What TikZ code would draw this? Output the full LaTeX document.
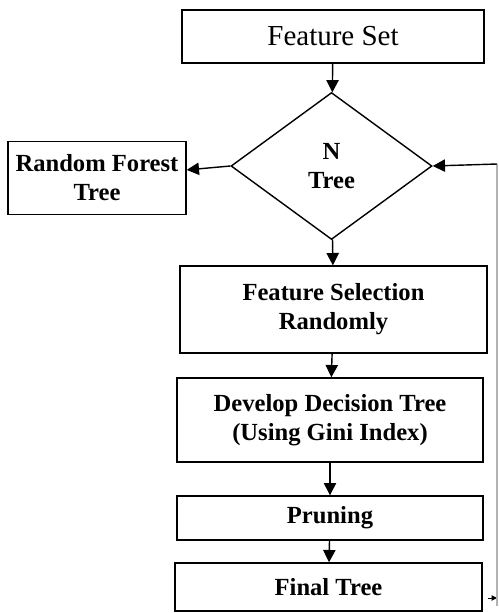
\documentclass[tikz,border=0pt]{standalone}
\usepackage{fontspec}
\setmainfont{Liberation Serif}
\usetikzlibrary{shapes.geometric,arrows.meta}

\begin{document}
\begin{tikzpicture}[x=0.02cm,y=-0.02cm,
  stepbox/.style = {draw,line width=0.8pt,align=center,inner sep=0pt,font=\fontsize{14}{16.5}\selectfont\bfseries},
  decision/.style = {draw,diamond,line width=0.8pt,align=center,inner sep=0pt,font=\fontsize{14}{16.5}\selectfont\bfseries},
  flow/.style = {line width=0.8pt,-{Triangle[width=7pt,length=7pt]}}]
\useasboundingbox (0,0) rectangle (498,613);

\node[stepbox,minimum width=302*0.02cm,minimum height=53*0.02cm,font=\fontsize{16.5}{19}\selectfont] (set) at (333,36.5) {Feature Set};
\node[decision,minimum width=201*0.02cm,minimum height=147*0.02cm] (ntree) at (331.5,166) {N\\Tree};
\node[stepbox,minimum width=178*0.02cm,minimum height=73*0.02cm] (forest) at (97,178) {Random Forest\\Tree};
\node[stepbox,minimum width=307*0.02cm,minimum height=87*0.02cm] (select) at (333.5,309.5) {Feature Selection\\Randomly};
\node[stepbox,minimum width=306*0.02cm,minimum height=84*0.02cm] (develop) at (330,420) {Develop Decision Tree\\(Using Gini Index)};
\node[stepbox,minimum width=306*0.02cm,minimum height=44*0.02cm] (prune) at (330,518) {Pruning};
\node[stepbox,minimum width=307*0.02cm,minimum height=48*0.02cm] (final) at (328.5,587) {Final Tree};

\coordinate (loopB) at (497,598);
\coordinate (loopT) at (497,164);

\draw[flow] (set) -- (ntree);
\draw[flow] (ntree.west) -- (forest);
\draw[flow] (ntree) -- (select);
\draw[flow] (select) -- (develop);
\draw[flow] (develop) -- (prune);
\draw[flow] (prune) -- (final);
\draw[line width=0.5pt,-{Triangle[width=3pt,length=3pt]}] ([xshift=5*0.02cm]final.east |- loopB) -- (loopB);
\draw[line width=0.6pt,gray!60] ([yshift=-8*0.02cm]loopB) -- (loopT);
\draw[flow] (loopT) -- (ntree.east);
\end{tikzpicture}
\end{document}
